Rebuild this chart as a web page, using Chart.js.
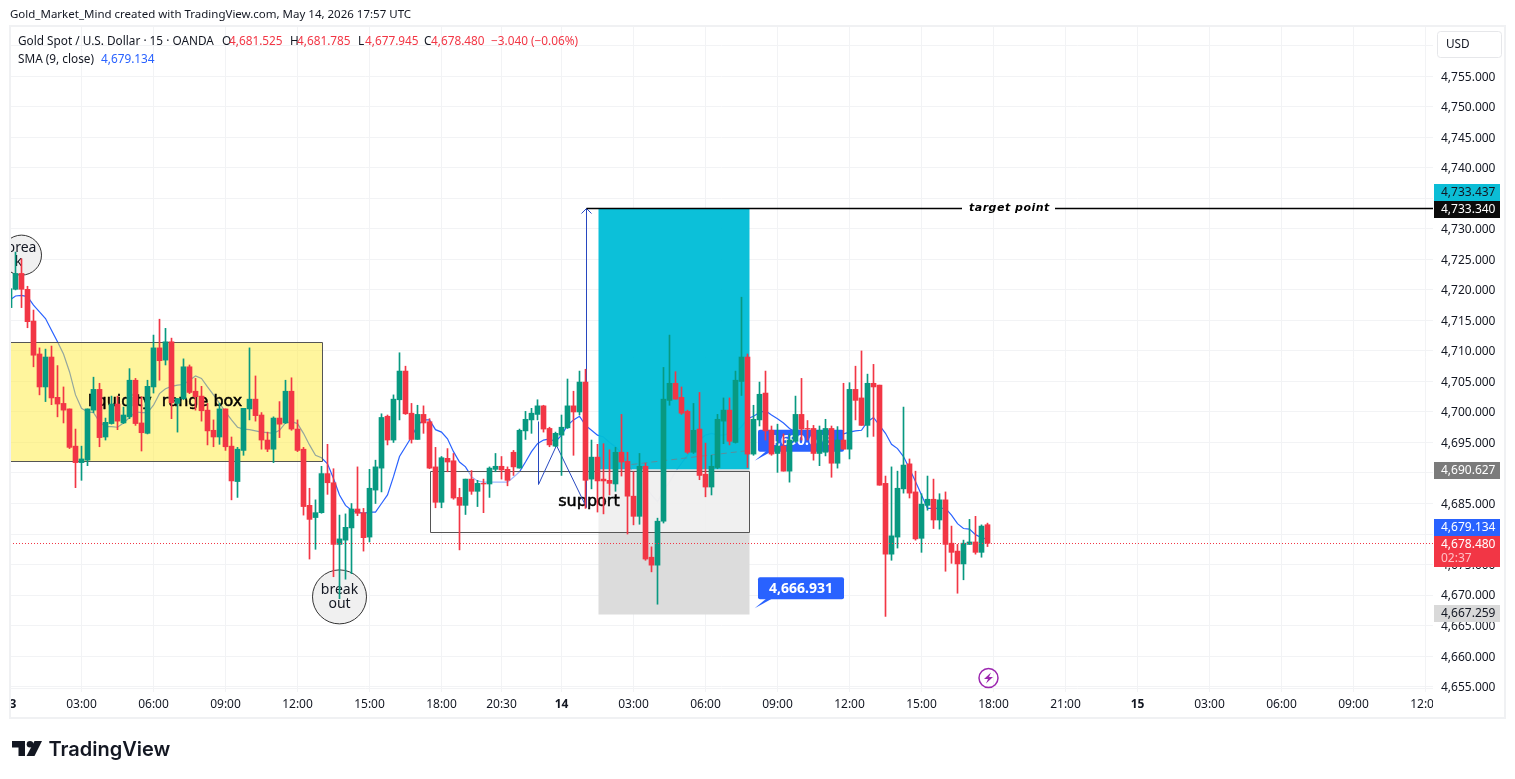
<!DOCTYPE html>
<html>
<head>
<meta charset="utf-8">
<title>Gold Spot / U.S. Dollar 15</title>
<script src="https://cdn.jsdelivr.net/npm/chart.js@4/dist/chart.umd.min.js"></script>
<style>
    html, body { margin: 0; padding: 0; background: #fff; }
    canvas { display: block; }
</style>
</head>
<body>
<canvas id="chart" width="1515" height="779"></canvas>
<script>
const opens = [
    4717.1,4720.1,4722.7,4720.1,4714.9,4709.5,4704.1,4709.0,4702.4,4701.4,
    4700.5,4694.4,4691.7,4692.1,4700.3,4703.7,4695.9,4698.1,4701.3,4698.2,
    4699.2,4705.2,4698.2,4696.5,4704.1,4710.5,4708.5,4711.5,4701.4,4702.2,
    4707.4,4703.4,4702.6,4700.3,4697.0,4695.9,4700.5,4694.4,4688.6,4693.7,
    4700.5,4702.1,4699.5,4695.4,4693.9,4699.0,4698.2,4703.4,4697.2,4693.9,
    4684.7,4682.7,4683.5,4689.9,4688.4,4678.3,4679.0,4681.0,4684.1,4683.5,
    4679.5,4687.2,4690.8,4699.3,4695.4,4702.0,4706.7,4699.8,4695.5,4699.6,
    4698.4,4691.0,4685.2,4692.4,4692.0,4686.0,4684.7,4689.0,4687.0,4688.3,
    4688.2,4690.6,4691.1,4690.6,4693.4,4690.8,4696.9,4698.7,4699.6,4701.0,
    4697.3,4694.4,4696.2,4697.4,4701.0,4700.0,4704.9,4689.0,4692.6,4689.0,
    4688.8,4688.2,4693.4,4691.9,4686.2,4682.9,4691.1,4676.2,4674.9,4682.1,
    4701.9,4704.7,4702.4,4700.1,4693.4,4697.2,4689.8,4687.7,4690.9,4698.5,
    4700.3,4695.0,4705.0,4709.0,4693.1,4698.7,4703.1,4697.0,4693.2,4694.4,
    4690.3,4695.2,4699.6,4697.3,4697.3,4693.2,4693.4,4697.3,4691.6,4695.4,
    4693.9,4703.7,4702.3,4697.8,4704.7,4704.4,4688.3,4676.7,4679.5,4687.4,
    4691.5,4686.9,4679.3,4684.7,4685.7,4682.3,4685.6,4678.5,4677.2,4675.1,
    4678.3,4678.7,4677.0,4681.525
];
const highs = [
    4720.5,4726.2,4725.1,4720.6,4716.7,4710.5,4710.3,4710.8,4707.6,4704.1,
    4700.5,4697.2,4694.4,4700.5,4705.7,4704.7,4699.0,4702.6,4702.6,4700.8,
    4707.1,4705.5,4702.5,4705.2,4712.6,4715.2,4713.7,4712.1,4702.2,4708.7,
    4707.7,4705.5,4704.2,4701.4,4698.7,4701.4,4700.5,4695.9,4694.2,4700.6,
    4710.5,4705.9,4699.9,4696.7,4699.2,4701.7,4705.2,4705.6,4698.7,4694.2,
    4687.5,4685.6,4691.1,4694.7,4690.7,4683.1,4683.3,4685.0,4691.0,4684.2,
    4690.6,4692.1,4699.7,4699.5,4702.8,4709.7,4707.5,4701.4,4701.1,4701.0,
    4698.9,4694.2,4692.7,4694.0,4693.2,4687.5,4689.0,4690.4,4688.8,4689.0,
    4691.0,4693.2,4692.7,4691.0,4693.7,4697.2,4700.1,4700.6,4702.0,4701.1,
    4697.5,4696.7,4699.5,4705.4,4703.4,4706.7,4707.0,4695.4,4694.7,4694.8,
    4693.8,4694.2,4699.6,4693.4,4690.2,4693.2,4691.6,4677.9,4682.6,4707.3,
    4712.6,4706.6,4704.1,4700.3,4701.4,4703.2,4694.9,4692.9,4699.6,4702.3,
    4702.3,4706.7,4718.8,4709.5,4701.1,4704.9,4706.7,4697.7,4698.0,4696.4,
    4696.4,4702.6,4705.5,4698.6,4697.8,4697.7,4698.8,4697.7,4697.6,4704.7,
    4704.8,4707.5,4710.0,4706.2,4707.8,4704.4,4689.5,4691.0,4690.3,4700.8,
    4692.3,4690.3,4686.6,4689.5,4689.0,4686.6,4686.9,4681.3,4678.3,4679.0,
    4682.4,4682.9,4681.5,4681.785
];
const lows = [
    4717.0,4720.0,4717.1,4713.8,4707.4,4702.8,4701.7,4701.2,4699.2,4698.2,
    4694.0,4687.6,4688.8,4691.2,4699.9,4694.3,4695.4,4698.0,4697.1,4698.1,
    4698.9,4697.8,4693.6,4696.4,4703.1,4705.2,4707.7,4698.9,4696.7,4702.0,
    4703.0,4700.3,4698.5,4694.6,4694.3,4694.7,4693.7,4685.6,4686.0,4692.9,
    4698.7,4698.5,4693.9,4693.5,4691.7,4695.8,4698.1,4697.0,4693.5,4683.1,
    4675.9,4677.5,4683.4,4686.5,4673.0,4669.4,4672.6,4673.5,4683.0,4677.2,
    4678.7,4685.0,4686.9,4694.6,4695.0,4698.7,4699.6,4694.9,4695.5,4696.5,
    4690.7,4684.3,4684.3,4690.2,4685.7,4677.4,4683.2,4686.5,4684.5,4683.5,
    4686.0,4690.2,4689.0,4687.9,4689.6,4690.8,4695.5,4696.5,4698.7,4696.7,
    4694.3,4694.3,4689.6,4697.3,4692.9,4699.5,4684.2,4687.4,4683.6,4683.3,
    4686.4,4687.0,4689.5,4680.0,4681.5,4681.6,4675.7,4673.8,4668.5,4681.8,
    4701.1,4702.1,4699.6,4693.2,4693.2,4688.9,4686.1,4686.4,4690.7,4694.8,
    4694.6,4694.9,4702.7,4690.9,4692.9,4697.7,4695.4,4692.9,4690.1,4690.3,
    4688.5,4695.0,4695.4,4695.4,4692.1,4691.2,4692.8,4689.3,4690.8,4693.9,
    4692.3,4698.7,4697.8,4695.9,4696.0,4688.0,4666.5,4675.7,4677.7,4686.7,
    4685.9,4679.0,4677.0,4683.9,4680.9,4680.8,4673.9,4675.2,4670.3,4672.5,
    4678.3,4676.7,4676.2,4677.945
];
const closes = [
    4720.2,4722.7,4720.1,4714.8,4709.3,4704.1,4709.0,4702.3,4701.3,4700.3,
    4694.2,4691.7,4692.3,4700.5,4703.7,4695.8,4698.3,4701.3,4698.5,4699.5,
    4705.2,4698.1,4696.6,4704.2,4710.5,4708.4,4711.5,4701.5,4702.2,4707.4,
    4703.2,4702.5,4700.2,4696.9,4695.9,4700.5,4694.3,4688.7,4693.9,4700.6,
    4702.1,4699.4,4695.4,4693.9,4699.0,4698.0,4703.4,4697.2,4693.7,4684.5,
    4682.4,4683.5,4689.9,4688.4,4678.3,4679.2,4681.1,4684.1,4683.4,4679.4,
    4687.5,4691.0,4699.1,4695.4,4702.1,4706.7,4699.7,4695.5,4699.6,4698.2,
    4690.8,4685.2,4692.5,4691.8,4685.9,4684.7,4689.0,4687.0,4688.3,4688.2,
    4690.8,4691.1,4690.5,4688.8,4691.0,4697.0,4698.8,4699.8,4701.0,4697.2,
    4694.6,4696.5,4697.5,4701.0,4700.0,4704.9,4688.8,4692.6,4688.7,4688.7,
    4688.3,4693.4,4691.8,4686.2,4682.9,4691.1,4675.9,4674.9,4682.1,4702.1,
    4704.7,4702.1,4699.8,4693.4,4697.0,4689.6,4687.7,4691.1,4698.8,4700.3,
    4695.2,4705.2,4709.0,4693.1,4698.8,4702.9,4696.9,4693.1,4694.4,4690.3,
    4695.4,4699.6,4697.2,4697.2,4693.2,4697.0,4697.3,4691.6,4695.4,4693.9,
    4703.7,4701.9,4697.8,4704.7,4704.1,4688.0,4676.7,4679.7,4687.5,4691.3,
    4686.7,4679.2,4684.9,4685.7,4682.3,4685.6,4678.3,4677.0,4675.1,4678.5,
    4678.7,4677.0,4681.3,4678.48
];
const smaValues = [
    4718.3,4719.0,4719.1,4718.9,4717.5,4716.4,4715.3,4713.4,4711.5,4709.5,
    4706.6,4702.8,4700.6,4700.0,4699.9,4698.4,4697.6,4697.6,4697.5,4698.2,
    4699.1,4700.0,4699.9,4699.9,4701.1,4703.0,4703.8,4704.2,4704.4,4704.5,
    4705.2,4705.9,4705.5,4704.1,4702.8,4701.4,4700.0,4698.7,4697.5,4697.2,
    4697.1,4696.9,4696.7,4696.6,4696.5,4697.0,4698.2,4698.4,4698.1,4696.5,
    4694.6,4692.9,4692.5,4691.5,4689.1,4686.4,4684.7,4683.9,4683.6,4683.4,
    4683.6,4683.6,4685.0,4686.4,4689.4,4692.7,4694.3,4695.9,4697.8,4698.7,
    4698.7,4697.1,4696.7,4695.6,4693.5,4691.8,4691.0,4689.4,4688.7,4688.5,
    4688.5,4688.5,4688.5,4688.5,4689.3,4690.2,4691.8,4693.5,4694.8,4695.4,
    4695.6,4695.1,4696.2,4697.8,4698.7,4699.3,4697.8,4697.0,4696.2,4695.9,
    4695.0,4694.3,4693.2,4691.6,4689.9,4688.8,4687.7,4686.4,4685.3,4687.2,
    4688.5,4690.2,4691.6,4692.9,4694.3,4695.4,4696.2,4696.5,4696.2,4696.2,
    4696.5,4696.7,4697.6,4698.9,4699.3,4699.9,4700.2,4699.5,4698.9,4698.2,
    4697.3,4696.7,4696.4,4695.9,4695.9,4695.6,4695.6,4695.9,4696.2,4696.4,
    4696.7,4696.9,4697.0,4698.4,4699.1,4697.8,4696.5,4694.7,4694.0,4692.7,
    4690.7,4688.6,4686.4,4684.2,4684.2,4684.2,4684.2,4683.1,4681.7,4680.9,
    4680.8,4679.9,4679.4,4679.134
];

// bar number of each time label, counted from the first candle
const timeTickBars = [0, 12, 24, 36, 48, 60, 72, 82, 92, 104, 116, 128, 140, 152, 164, 176, 188, 200, 212, 224, 236];
const timeTickLabels = ["13", "03:00", "06:00", "09:00", "12:00", "15:00", "18:00", "20:30", "14", "03:00", "06:00", "09:00", "12:00", "15:00", "18:00", "21:00", "15", "03:00", "06:00", "09:00", "12:00"];
const dayLabels = ["13", "14", "15"];
const priceTicks = [4655, 4660, 4665, 4670, 4675, 4680, 4685, 4690, 4695, 4700, 4705, 4710, 4715, 4720, 4725, 4730, 4735, 4740, 4745, 4750, 4755, 4760];

const targetPrice = 4733.34;
const profitPrice = 4733.437;
const entryPrice = 4690.627;
const stopPrice = 4667.259;
const stopNotePrice = 4666.931;
const lastPrice = 4678.48;
const lastSma = 4679.134;

const GREEN = "#089981";
const RED = "#F23645";
const BLUE = "#2962FF";
const INK = "#131722";
const GRID = "#f2f3f5";
const FRAME = "#f0f1f3";
const UI_FONT = "'Noto Sans', sans-serif";
const NOTE_FONT = "16px 'DejaVu Sans', sans-serif";

const barIndexes = opens.map((_, i) => i);
const candleColors = opens.map((o, i) => (closes[i] >= o ? GREEN : RED));

function money(v, digits) {
    return v.toLocaleString("en-US", { minimumFractionDigits: digits, maximumFractionDigits: digits });
}

function text(ctx, str, x, y, font, color, align) {
    ctx.font = font;
    ctx.fillStyle = color;
    ctx.textAlign = align || "left";
    ctx.textBaseline = "middle";
    ctx.fillText(str, x, y);
}

function heavyText(ctx, str, x, y, align) {
    text(ctx, str, x, y, NOTE_FONT, "#000", align);
    ctx.strokeStyle = "#000";
    ctx.lineWidth = 0.5;
    ctx.strokeText(str, x, y);
    ctx.lineWidth = 1;
}

function roundBox(ctx, x, y, w, h, r) {
    ctx.beginPath();
    ctx.roundRect(x, y, w, h, r);
}

// drawings that sit between the SMA and the candles, anchored to bars and prices
const drawingsPlugin = {
    id: "drawings",
    afterDatasetDraw(chart, args) {
        if (args.meta.type !== "line") return;
        const ctx = chart.ctx;
        const xs = chart.scales.x;
        const ys = chart.scales.y;
        const X = (bar) => Math.round(xs.getPixelForValue(bar)) + 0.5;
        const Y = (price) => Math.round(ys.getPixelForValue(price)) + 0.5;
        const area = chart.chartArea;

        ctx.save();
        ctx.beginPath();
        ctx.rect(area.left, area.top, area.width, area.height);
        ctx.clip();

        // liquidity box
        ctx.fillStyle = "rgba(255,235,59,0.5)";
        ctx.strokeStyle = "#555";
        ctx.lineWidth = 1;
        ctx.beginPath();
        ctx.rect(X(-4), Y(4711.5), X(52) - X(-4), Y(4691.9) - Y(4711.5));
        ctx.fill();
        ctx.stroke();
        heavyText(ctx, "liquidity  range box", 165, Y(4701.8), "center");

        // long position
        ctx.fillStyle = "rgba(2,189,215,0.96)";
        ctx.fillRect(X(98.1), Y(profitPrice), X(123.3) - X(98.1), Y(entryPrice) - Y(profitPrice));
        ctx.fillStyle = "rgba(219,219,219,0.97)";
        ctx.fillRect(X(98.1), Y(entryPrice), X(123.3) - X(98.1), Y(stopNotePrice) - Y(entryPrice));
        ctx.strokeStyle = "rgba(120,123,134,0.75)";
        ctx.setLineDash([6, 4]);
        ctx.beginPath();
        ctx.moveTo(X(103.5), Y(4691.4));
        ctx.lineTo(X(123), Y(4693.7));
        ctx.stroke();
        ctx.setLineDash([]);

        // support box
        ctx.fillStyle = "rgba(255,255,255,0.55)";
        ctx.strokeStyle = "#555";
        ctx.beginPath();
        ctx.rect(X(70), Y(4690.4), X(123.2) - X(70), Y(4680.4) - Y(4690.4));
        ctx.fill();
        ctx.stroke();
        heavyText(ctx, "support", 589, Y(4685.4), "center");

        // hand drawn zigzag up into the target arrow
        ctx.strokeStyle = "#2748c0";
        ctx.beginPath();
        ctx.moveTo(X(88), Y(4698.6));
        ctx.lineTo(X(88), Y(4688.2));
        ctx.lineTo(X(91), Y(4694.6));
        ctx.lineTo(X(96), Y(4684.4));
        ctx.lineTo(X(96), Y(targetPrice));
        ctx.stroke();
        ctx.beginPath();
        ctx.moveTo(X(96) - 5, Y(targetPrice) + 5);
        ctx.lineTo(X(96), Y(targetPrice));
        ctx.lineTo(X(96) + 5, Y(targetPrice) + 5);
        ctx.stroke();

        // target line with its label
        ctx.strokeStyle = "#000";
        ctx.lineWidth = 1.5;
        ctx.beginPath();
        ctx.moveTo(X(96), Y(targetPrice));
        ctx.lineTo(962, Y(targetPrice));
        ctx.moveTo(1055, Y(targetPrice));
        ctx.lineTo(area.right, Y(targetPrice));
        ctx.stroke();
        ctx.lineWidth = 1;
        ctx.letterSpacing = "0.5px";
        text(ctx, "target point", 969, Y(targetPrice), "italic bold 11px 'DejaVu Sans', sans-serif", "#000");
        ctx.letterSpacing = "0px";

        // circled notes
        [[2, 4725.7, 20, [["brea", 0], ["k", -3]]], [55, 4669.7, 27, [["break", 0], ["out", 0]]]].forEach(([bar, price, r, lines]) => {
            const cx = xs.getPixelForValue(bar);
            const cy = ys.getPixelForValue(price);
            ctx.fillStyle = "#f0f0f0";
            ctx.strokeStyle = "#333";
            ctx.beginPath();
            ctx.arc(cx, cy, r, 0, Math.PI * 2);
            ctx.fill();
            ctx.stroke();
            lines.forEach(([line, dx], i) => {
                text(ctx, line, cx + dx, cy + (i - 0.5) * 14, "14px " + UI_FONT, "#131722", "center");
            });
        });

        // price notes
        [[4692.0, 4690.676], [stopNotePrice + 0.9, stopNotePrice]].forEach(([tipPrice, value]) => {
            const tipX = xs.getPixelForValue(124.2);
            const tipY = ys.getPixelForValue(tipPrice);
            const boxTop = tipY - 31;
            ctx.fillStyle = BLUE;
            ctx.beginPath();
            ctx.moveTo(tipX, tipY);
            ctx.lineTo(tipX + 12, boxTop + 21);
            ctx.lineTo(tipX + 18, boxTop + 21);
            ctx.closePath();
            ctx.fill();
            roundBox(ctx, 758, boxTop, 86, 22, 2);
            ctx.fill();
            text(ctx, money(value, 3), 801, boxTop + 11.5, "bold 14px " + UI_FONT, "#fff", "center");
        });

        ctx.restore();
    }
};

// page furniture and the price tags, drawn over everything
const furniturePlugin = {
    id: "furniture",
    afterDraw(chart) {
        const ctx = chart.ctx;
        const area = chart.chartArea;
        const ys = chart.scales.y;
        const HEAD = "11.8px " + UI_FONT;
        ctx.save();

        // dotted last price line
        ctx.strokeStyle = "#f23645";
        ctx.lineWidth = 1;
        ctx.setLineDash([1, 2]);
        ctx.beginPath();
        ctx.moveTo(area.left, Math.round(ys.getPixelForValue(lastPrice)) + 0.5);
        ctx.lineTo(area.right, Math.round(ys.getPixelForValue(lastPrice)) + 0.5);
        ctx.stroke();
        ctx.setLineDash([]);

        // time labels stop at the pane edges
        ctx.fillStyle = "#fff";
        ctx.fillRect(0, area.bottom + 1, area.left, 29);
        ctx.fillRect(area.right, area.bottom + 1, 8, 29);

        // frame
        ctx.strokeStyle = FRAME;
        ctx.lineWidth = 2;
        ctx.strokeRect(10, 26, 1495, 692);
        ctx.lineWidth = 1;
        ctx.strokeStyle = GRID;
        ctx.beginPath();
        ctx.moveTo(area.left, area.bottom + 0.5);
        ctx.lineTo(area.right, area.bottom + 0.5);
        ctx.stroke();

        // header
        text(ctx, "Gold_Market_Mind created with TradingView.com, May 14, 2026 17:57 UTC", 10, 15, "11.5px " + UI_FONT, INK);
        text(ctx, "Gold Spot / U.S. Dollar \u00b7 15 \u00b7 OANDA", 18, 42, HEAD, INK);
        [["O", opens, 222], ["H", highs, 290], ["L", lows, 358], ["C", closes, 424]].forEach(([key, list, x]) => {
            text(ctx, key, x, 42, HEAD, INK);
            text(ctx, money(list[list.length - 1], 3), x + 7, 42, HEAD, RED);
        });
        text(ctx, "\u22123.040 (\u22120.06%)", 491, 42, HEAD, RED);
        text(ctx, "SMA (9, close)", 18, 59.5, HEAD, INK);
        text(ctx, money(lastSma, 3), 101, 59.5, HEAD, BLUE);

        // USD button
        ctx.fillStyle = "#fff";
        ctx.strokeStyle = "#e6e7ea";
        roundBox(ctx, 1437.5, 31.5, 64, 26, 3);
        ctx.fill();
        ctx.stroke();
        text(ctx, "USD", 1446, 45, HEAD, INK);

        // price tags, nudged apart the way the axis does it
        const tag = (price, bg, fg, shift, height) => {
            const y = Math.round(ys.getPixelForValue(price)) + 1 + (shift || 0);
            ctx.fillStyle = bg;
            ctx.fillRect(1434, y - 8, 66, height || 17);
            text(ctx, money(price, 3), 1441, y + 0.5, "12px " + UI_FONT, fg);
        };
        tag(profitPrice, "#0BBDD6", INK, -17);
        tag(targetPrice, "#0b0b0b", "#fff");
        tag(entryPrice, "#7b7b7b", "#fff");
        tag(stopPrice, "#d9d9d9", INK);
        tag(lastSma, BLUE, "#fff", -13);
        tag(lastPrice, RED, "#fff", 0, 31);
        text(ctx, "02:37", 1441, Math.round(ys.getPixelForValue(lastPrice)) + 16, "12px " + UI_FONT, "#ffc0c6");

        // lightning badge
        ctx.strokeStyle = "#9c27b0";
        ctx.lineWidth = 1.5;
        ctx.beginPath();
        ctx.arc(988.5, 678, 9.5, 0, Math.PI * 2);
        ctx.stroke();
        ctx.fillStyle = "#9c27b0";
        ctx.beginPath();
        ctx.moveTo(991, 672.5);
        ctx.lineTo(984, 679);
        ctx.lineTo(988, 679);
        ctx.lineTo(986, 683.5);
        ctx.lineTo(993, 677);
        ctx.lineTo(989, 677);
        ctx.closePath();
        ctx.fill();

        // TradingView logo
        ctx.fillStyle = "#131722";
        ctx.beginPath();
        ctx.moveTo(12, 741);
        ctx.lineTo(25, 741);
        ctx.lineTo(25, 756);
        ctx.lineTo(18.5, 756);
        ctx.lineTo(18.5, 747.5);
        ctx.lineTo(12, 747.5);
        ctx.closePath();
        ctx.fill();
        ctx.beginPath();
        ctx.arc(30, 744.3, 3.3, 0, Math.PI * 2);
        ctx.fill();
        ctx.beginPath();
        ctx.moveTo(34.5, 741);
        ctx.lineTo(42, 741);
        ctx.lineTo(34.5, 756);
        ctx.lineTo(26.5, 756);
        ctx.closePath();
        ctx.fill();
        text(ctx, "TradingView", 48.5, 749.5, "600 20px Inter, sans-serif", "#131722");

        ctx.restore();
    }
};

new Chart(document.getElementById("chart"), {
    data: {
        datasets: [
            {
                type: "bar",
                label: "Body",
                data: barIndexes.map((i) => ({ x: i, y: [opens[i], closes[i]] })),
                backgroundColor: candleColors,
                barThickness: 5,
                grouped: false,
                order: 1
            },
            {
                type: "bar",
                label: "Wick",
                data: barIndexes.map((i) => ({ x: i, y: [lows[i], highs[i]] })),
                backgroundColor: candleColors,
                barThickness: 1,
                grouped: false,
                order: 2
            },
            {
                type: "line",
                label: "SMA (9, close)",
                data: barIndexes.map((i) => ({ x: i, y: smaValues[i] })),
                borderColor: BLUE,
                borderWidth: 1.2,
                pointRadius: 0,
                tension: 0,
                order: 3
            }
        ]
    },
    options: {
        responsive: false,
        animation: false,
        layout: { padding: { left: 10, right: 10, top: 27, bottom: 61 } },
        plugins: {
            legend: { display: false },
            tooltip: { enabled: false }
        },
        scales: {
            x: {
                type: "linear",
                offset: false,
                min: 0.0833,
                max: 237.25,
                grid: { color: GRID, tickLength: 4, tickColor: GRID, offset: false },
                border: { display: false },
                afterBuildTicks: (axis) => {
                    axis.ticks = timeTickBars.map((value) => ({ value }));
                },
                afterFit: (axis) => {
                    axis.height = 30;
                    axis.paddingLeft = 0;
                    axis.paddingRight = 0;
                },
                ticks: {
                    autoSkip: false,
                    maxRotation: 0,
                    padding: 5,
                    color: INK,
                    font: (c) => ({
                        family: "'Noto Sans', sans-serif",
                        size: 12,
                        weight: dayLabels.includes(timeTickLabels[c.index]) ? "bold" : "normal"
                    }),
                    callback: (value, i) => timeTickLabels[i]
                }
            },
            y: {
                type: "linear",
                position: "right",
                min: 4654.77,
                max: 4763.08,
                grid: { color: GRID, drawTicks: false },
                border: { display: false },
                afterBuildTicks: (axis) => {
                    axis.ticks = priceTicks.map((value) => ({ value }));
                },
                afterFit: (axis) => {
                    axis.width = 72;
                },
                ticks: {
                    padding: 8,
                    labelOffset: 1,
                    color: INK,
                    font: { family: "'Noto Sans', sans-serif", size: 12 },
                    callback: (value) => (value > 4755 ? "" : money(value, 3))
                }
            }
        }
    },
    plugins: [drawingsPlugin, furniturePlugin]
});
</script>
</body>
</html>
